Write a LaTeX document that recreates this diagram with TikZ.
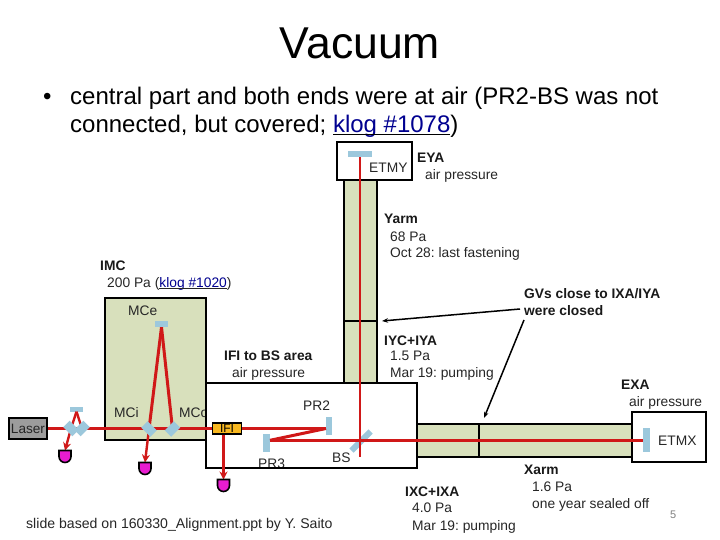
\documentclass[tikz,border=0pt]{standalone}
\usepackage{fontspec}
\setmainfont{Liberation Sans}
\frenchspacing
\usetikzlibrary{arrows.meta}
\definecolor{armgreen}{HTML}{D8E0BC}
\definecolor{mirrorblue}{HTML}{9CC8DC}
\definecolor{beamred}{HTML}{D01818}
\definecolor{pdmag}{HTML}{E81CD0}
\definecolor{ifiorange}{HTML}{F8B820}
\definecolor{lasergray}{HTML}{9C9C9C}
\definecolor{linkblue}{HTML}{000090}
\definecolor{pagegray}{HTML}{808080}
\newcommand{\pdiode}[2]{\draw[line width=1.6pt,fill=pdmag] (#1-6,#2) -- (#1+6,#2) -- (#1+6,#2+6) arc[start angle=0,end angle=-180,radius=6pt] -- cycle;}
\newcommand{\lnk}[1]{\underline{\smash{\textcolor{linkblue}{#1}}}}
\tikzset{
 x=1pt,y=-1pt,
 vac/.style={draw=black,line width=2.8pt,fill=armgreen},
 air/.style={draw=black,line width=2.8pt,fill=white},
 beam/.style={draw=beamred,line width=3pt},
 thinbeam/.style={draw=beamred,line width=2.4pt},
 pdbeam/.style={draw=beamred,line width=2.4pt,-{Stealth[length=8pt,width=8pt]}},
 note/.style={draw=black,line width=1.5pt,-{Stealth[length=6pt,width=4.5pt]}},
 mirror/.style={fill=mirrorblue,inner sep=0pt,minimum width=#1,minimum height=6pt,draw=none},
 mirror/.default=14pt,
 tilted/.style={fill=mirrorblue,inner sep=0pt,minimum width=13pt,minimum height=9pt,draw=none},
 txt/.style={anchor=base west,inner sep=0pt,font=\fontsize{13.8}{16}\selectfont,text=black!85},
 btxt/.style={anchor=base west,inner sep=0pt,font=\fontsize{13.8}{16}\selectfont\bfseries,text=black!90},
}
\begin{document}
\begin{tikzpicture}
\useasboundingbox[fill=white] (0,0) rectangle (720,540);
% title
\node[anchor=base,inner sep=0pt,font=\fontsize{44.6}{50}\selectfont] (title) at (360,59) {Vacuum};
\node[anchor=base west,inner sep=0pt,font=\fontsize{24}{28}\selectfont] (bul) at (43,105) {•};
\node[anchor=base west,inner sep=0pt,font=\fontsize{24}{28}\selectfont] (l1) at (70,105) {central part and both ends were at air (PR2-BS was not};
\node[anchor=base west,inner sep=0pt,font=\fontsize{24}{28}\selectfont] (l2) at (70,133) {connected, but covered; \lnk{klog \#1078})};
% arms
\draw[vac] (344,180) rectangle (377,383);
\draw[vac] (417,424) rectangle (632,457);
\coordinate (yl) at (344,321); \coordinate (yr) at (377,321);
\coordinate (xt) at (479,424); \coordinate (xb) at (479,457);
\draw[draw=black,line width=2.4pt] (yl) -- (yr);
\draw[draw=black,line width=2.4pt] (xt) -- (xb);
% IMC
\draw[vac] (105,298) rectangle (206,440);
\node[txt] (mco) at (179,417) {MCo};
% air boxes
\draw[air] (206,383) rectangle (417,468);
\draw[air] (337,142) rectangle (412,180);
\draw[air] (632,412) rectangle (706,462);
\node[txt] (pr3) at (258,468) {PR3};
\draw[draw=black,line width=2.8pt] (206,468) -- (417,468);
% mirrors
\node[mirror=24pt] (etmy) at (360,154) {};
\node[mirror=24pt,rotate=90,minimum height=7pt] (etmx) at (646.5,440) {};
\node[mirror=18pt,rotate=90] (pr2) at (329,426) {};
\node[mirror=18pt,rotate=90,minimum height=7pt] (pr3m) at (266.5,443) {};
\node[mirror=27pt,rotate=45] (bs) at (361,441) {};
\node[mirror=13pt] (mcem) at (161.5,324) {};
\node[mirror=13pt,minimum height=5pt] (mmtt) at (76.5,409) {};
% laser
\node[draw=black,line width=2.2pt,fill=lasergray,minimum width=38pt,minimum height=21pt,inner sep=0pt,font=\fontsize{13.6}{16}\selectfont,text=black!85] (laser) at (28,428.5) {Laser};
% beams
\coordinate (ybeamend) at (360,457);
\coordinate (xbeamend) at (643,440.3);
\coordinate (pr3pt) at (270,440.3);
\coordinate (pr2pt) at (326,428.5);
\coordinate (mmtapt) at (71,428.5);
\coordinate (mmtbpt) at (82,428.5);
\coordinate (mcipt) at (149,429);
\coordinate (mcopt) at (172.5,429);
\draw[thinbeam] (etmy.south) -- (ybeamend);
\draw[beam] (pr3pt) -- (xbeamend);
\draw[beam] (pr3pt) -- (pr2pt);
\draw[beam] (laser.east) -- (pr2pt);
\draw[beam] (mcipt) -- (mcem.south);
\draw[beam] (mcopt) -- (mcem.south);
\draw[thinbeam] (mmtapt) -- (mmtt.south);
\draw[thinbeam] (mmtbpt) -- (mmtt.south);
% IFI
\node[draw=black,line width=1.8pt,fill=ifiorange,minimum width=29pt,minimum height=11pt,inner sep=0pt,font=\fontsize{12}{12}\selectfont] (ifi) at (227,428.5) {IFI};
% photodiodes
\coordinate (pda) at (65,450.5);
\coordinate (pdb) at (145,462.5);
\coordinate (pdc) at (223.5,479.5);
\draw[pdbeam] (mmtapt) -- (pda);
\draw[pdbeam] (mcipt) -- (pdb);
\draw[pdbeam] (ifi.south -| pdc) -- (pdc);
\pdiode{65}{450.5}
\pdiode{145}{462.5}
\pdiode{223.5}{479.5}
% tilted optics over the beams
\node[tilted,rotate=-45] (mmta) at (mmtapt) {};
\node[tilted,rotate=45] (mmtb) at (mmtbpt) {};
\node[tilted,rotate=-45] (mci) at (mcipt) {};
\node[tilted,rotate=45] (mco2) at (mcopt) {};
% labels
\node[txt] (etmyt) at (369,173) {ETMY};
\node[btxt] (eya) at (417,163) {EYA};
\node[txt] (eyap) at (425,179.5) {air pressure};
\node[btxt] (yarm) at (384,224) {Yarm};
\node[txt] (yp) at (390,241) {68 Pa};
\node[txt] (yd) at (390,258) {Oct 28: last fastening};
\node[btxt] (imc) at (100,270) {IMC};
\node[txt] (imcp) at (107,287) {200 Pa (\lnk{klog \#1020})};
\node[txt] (mcet) at (128,315) {MCe};
\node[btxt] (gv1) at (524,298) {GVs close to IXA/IYA};
\node[btxt] (gv2) at (524,315) {were closed};
\node[btxt] (ifibs) at (224,360) {IFI to BS area};
\node[txt] (ifibsp) at (232,377) {air pressure};
\node[btxt] (iyc) at (384,345) {IYC+IYA};
\node[txt] (iycp) at (390,360) {1.5 Pa};
\node[txt] (iycd) at (390,377) {Mar 19: pumping};
\node[btxt] (exa) at (621,389) {EXA};
\node[txt] (exap) at (629,406) {air pressure};
\node[txt] (mcit) at (114,417) {MCi};
\node[txt] (pr2t) at (303,410) {PR2};
\node[txt] (bst) at (332,462) {BS};
\node[txt] (etmxt) at (658,445) {ETMX};
\node[btxt] (xarm) at (524,474) {Xarm};
\node[txt] (xp) at (532,491) {1.6 Pa};
\node[txt] (xd) at (532,508) {one year sealed off};
\node[btxt] (ixc) at (405,496) {IXC+IXA};
\node[txt] (ixp) at (412,512) {4.0 Pa};
\node[txt] (ixd) at (412,530) {Mar 19: pumping};
\node[anchor=base west,inner sep=0pt,font=\fontsize{14.1}{16}\selectfont,text=black!85] (credit) at (26,528) {slide based on 160330\_Alignment.ppt by Y. Saito};
\node[anchor=base west,inner sep=0pt,font=\fontsize{11}{12}\selectfont,text=pagegray] (pg) at (670,518) {5};
% note arrows
\coordinate (gvy) at (382,321);
\coordinate (gvx) at (484,418);
\coordinate (gvs) at (520,309);
\coordinate (gvt) at (524,320);
\draw[note] (gvs) -- (gvy);
\draw[note] (gvt) -- (gvx);
\end{tikzpicture}
\end{document}
